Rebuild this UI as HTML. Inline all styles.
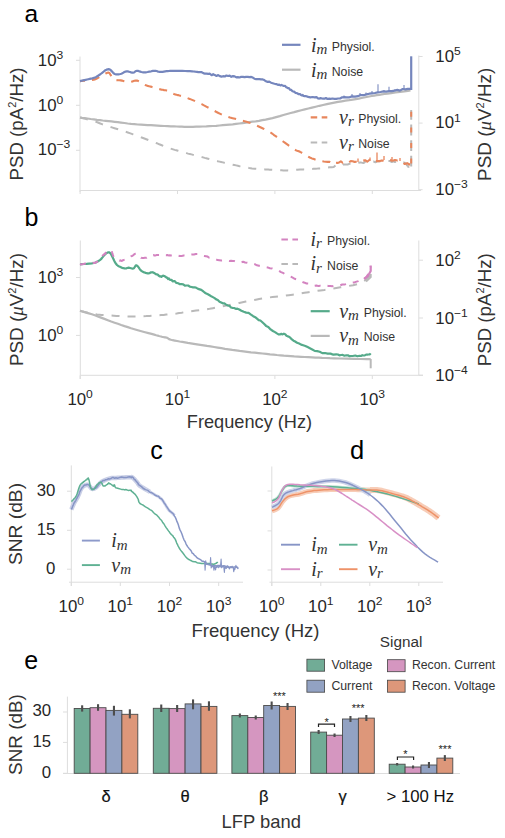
<!DOCTYPE html>
<html><head><meta charset="utf-8"><style>
html,body{margin:0;padding:0;background:#fff;}
svg{display:block;}
text{font-family:"Liberation Sans",sans-serif;}
</style></head><body>
<svg width="505" height="838" viewBox="0 0 505 838">
<rect width="505" height="838" fill="#fff"/>
<text x="24.5" y="22" font-size="24.5" text-anchor="start" fill="#000" >a</text>
<line x1="80" y1="56.5" x2="80" y2="192" stroke="#dddddd" stroke-width="1"/>
<line x1="80" y1="190.5" x2="421" y2="190.5" stroke="#dddddd" stroke-width="1"/>
<line x1="418.8" y1="55.5" x2="418.8" y2="190.5" stroke="#dddddd" stroke-width="1"/>
<line x1="76" y1="60.3" x2="80" y2="60.3" stroke="#dddddd" stroke-width="1"/>
<line x1="76" y1="105.3" x2="80" y2="105.3" stroke="#dddddd" stroke-width="1"/>
<line x1="76" y1="150.3" x2="80" y2="150.3" stroke="#dddddd" stroke-width="1"/>
<line x1="418.8" y1="56.5" x2="422.6" y2="56.5" stroke="#dddddd" stroke-width="1"/>
<line x1="418.8" y1="123.1" x2="422.6" y2="123.1" stroke="#dddddd" stroke-width="1"/>
<line x1="418.8" y1="189.7" x2="422.6" y2="189.7" stroke="#dddddd" stroke-width="1"/>
<line x1="80.1" y1="190.5" x2="80.1" y2="194" stroke="#dddddd" stroke-width="1"/>
<line x1="177.5" y1="190.5" x2="177.5" y2="194" stroke="#dddddd" stroke-width="1"/>
<line x1="274.9" y1="190.5" x2="274.9" y2="194" stroke="#dddddd" stroke-width="1"/>
<line x1="372.3" y1="190.5" x2="372.3" y2="194" stroke="#dddddd" stroke-width="1"/>
<text x="0" y="0" transform="translate(37.8 65.5) scale(1.05 1)" font-size="16" text-anchor="start" fill="#262626">10<tspan font-size="11.5" dy="-6.7">3</tspan></text>
<text x="0" y="0" transform="translate(37.8 110.8) scale(1.05 1)" font-size="16" text-anchor="start" fill="#262626">10<tspan font-size="11.5" dy="-6.7">0</tspan></text>
<text x="0" y="0" transform="translate(37.8 154.8) scale(1.05 1)" font-size="16" text-anchor="start" fill="#262626">10<tspan font-size="11.5" dy="-6.7">−3</tspan></text>
<text x="0" y="0" transform="translate(435.3 61.5) scale(1.05 1)" font-size="16" text-anchor="start" fill="#262626">10<tspan font-size="11.5" dy="-6.7">5</tspan></text>
<text x="0" y="0" transform="translate(435.3 128.3) scale(1.05 1)" font-size="16" text-anchor="start" fill="#262626">10<tspan font-size="11.5" dy="-6.7">1</tspan></text>
<text x="0" y="0" transform="translate(435.3 195) scale(1.05 1)" font-size="16" text-anchor="start" fill="#262626">10<tspan font-size="11.5" dy="-6.7">−3</tspan></text>
<text x="22.8" y="124" font-size="18.7" text-anchor="middle" fill="#333333" transform="rotate(-90 22.8 124)">PSD (pA<tspan font-size="11" dy="-7">2</tspan><tspan dy="7">/Hz)</tspan></text>
<text x="491" y="124.3" font-size="18.9" text-anchor="middle" fill="#333333" transform="rotate(-90 491 124.3)">PSD (<tspan style="font-family:Liberation Serif,serif;font-style:italic">μ</tspan>V<tspan font-size="11" dy="-7">2</tspan><tspan dy="7">/Hz)</tspan></text>
<path d="M80.0,117.5 L81.8,117.8 L84.4,118.1 L87.4,118.5 L90.7,119.0 L93.9,119.4 L97.0,119.8 L99.9,120.1 L102.7,120.5 L105.6,120.8 L108.5,121.1 L111.5,121.4 L114.6,121.8 L117.8,122.2 L121.0,122.6 L124.4,123.0 L127.7,123.5 L131.1,123.9 L134.4,124.2 L137.7,124.5 L141.0,124.7 L144.3,124.9 L147.6,125.1 L150.9,125.2 L154.2,125.4 L157.5,125.6 L160.9,125.8 L164.3,126.0 L167.7,126.1 L170.9,126.3 L174.0,126.4 L176.8,126.5 L179.4,126.6 L181.9,126.7 L184.4,126.8 L187.0,126.8 L189.8,126.8 L192.9,126.8 L196.1,126.7 L199.5,126.6 L202.9,126.5 L206.3,126.4 L209.6,126.2 L212.9,126.0 L216.2,125.8 L219.5,125.5 L222.8,125.2 L226.1,124.9 L229.4,124.6 L232.7,124.3 L236.0,123.9 L239.3,123.5 L242.6,123.1 L245.9,122.7 L249.2,122.2 L252.5,121.7 L255.7,121.3 L259.0,120.8 L262.3,120.2 L265.6,119.6 L269.0,118.9 L272.5,118.1 L276.1,117.1 L279.8,116.1 L283.4,115.0 L287.1,114.0 L290.7,113.0 L294.3,112.1 L297.8,111.1 L301.3,110.2 L304.8,109.4 L308.4,108.5 L312.0,107.6 L315.7,106.7 L319.4,105.8 L323.1,105.0 L326.9,104.1 L330.6,103.3 L334.3,102.6 L338.0,101.9 L341.7,101.3 L345.4,100.7 L349.1,100.2 L352.6,99.6 L355.8,99.1 L358.8,98.6 L361.5,98.0 L364.1,97.5 L366.6,97.0 L369.1,96.5 L371.7,96.0 L374.3,95.6 L376.7,95.2 L379.2,94.8 L381.7,94.4 L384.5,94.0 L387.5,93.6 L391.2,93.1 L395.5,92.5 L400.0,91.8 L404.3,91.3 L407.9,90.8 L410.5,90.4" fill="none" stroke="#b9b9b9" stroke-width="2.2" stroke-linejoin="round" opacity="1"/>
<path d="M80.0,117.5 L81.4,117.8 L83.3,118.3 L85.5,118.8 L88.0,119.5 L90.5,120.1 L92.8,120.8 L95.0,121.5 L97.3,122.3 L99.6,123.2 L101.9,124.1 L104.3,125.0 L106.7,125.8 L109.2,126.6 L111.8,127.4 L114.5,128.2 L117.2,129.0 L119.8,129.8 L122.5,130.7 L125.1,131.6 L127.8,132.5 L130.4,133.4 L133.1,134.4 L135.8,135.3 L138.4,136.3 L141.0,137.3 L143.7,138.2 L146.3,139.2 L148.9,140.2 L151.6,141.2 L154.2,142.2 L156.8,143.2 L159.3,144.3 L161.8,145.3 L164.4,146.4 L167.1,147.4 L170.0,148.4 L171.5,148.9 L173.1,149.4 L174.7,149.9 L176.3,150.3 L178.0,150.8 L179.7,151.3 L181.4,151.7 L183.1,152.2 L184.8,152.6 L186.5,153.1 L188.1,153.6 L189.8,154.0 L191.5,154.4 L193.1,154.9 L194.8,155.3 L196.4,155.7 L198.1,156.2 L199.7,156.6 L201.4,157.0 L203.0,157.4 L204.7,157.9 L206.3,158.3 L208.0,158.7 L209.6,159.1 L211.2,159.5 L212.9,159.9 L214.6,160.3 L216.2,160.7 L217.8,161.2 L219.5,161.6 L221.1,162.0 L222.8,162.4 L224.4,162.8 L226.1,163.1 L227.8,163.5 L229.4,163.9 L231.1,164.3 L232.7,164.7 L234.4,165.0 L236.1,165.4 L237.8,165.8 L239.6,166.2 L241.2,166.5 L242.9,166.9 L244.5,167.2 L246.1,167.5 L247.7,167.7 L249.2,168.0 L252.0,168.4 L254.6,168.7 L257.1,168.9 L259.6,169.1 L262.2,169.2 L265.0,169.4 L266.6,169.5 L268.1,169.6 L269.8,169.7 L271.5,169.8 L273.2,169.9 L274.9,170.0 L276.7,170.1 L278.4,170.2 L280.1,170.3 L281.7,170.3 L283.3,170.4 L284.8,170.4 L287.5,170.4 L289.9,170.3 L292.1,170.2 L294.5,170.0 L297.0,169.8 L300.0,169.6 L301.7,169.5 L303.5,169.4 L305.4,169.3 L307.3,169.2 L309.3,169.1 L311.4,169.0 L313.5,168.8 L315.6,168.7 L317.6,168.6 L319.7,168.4 L321.8,168.2 L323.8,168.0 L325.8,167.8 L327.8,167.5 L329.7,167.2 L331.7,167.3 L333.7,167.0 L335.6,165.4 L337.6,165.1 L339.6,165.9 L341.6,166.1 L343.5,164.5 L345.5,164.6 L347.5,164.6 L349.5,163.8 L351.5,163.7 L353.4,163.3 L355.4,163.2 L357.4,163.4 L359.4,162.6 L361.4,162.6 L363.4,163.1 L365.4,161.6 L367.3,162.4 L369.3,162.6 L371.3,161.7 L373.4,161.4 L375.4,162.3 L377.6,161.2 L379.7,161.0 L381.9,161.4 L384.0,161.9 L386.1,160.7 L388.1,161.1 L390.0,161.1 L391.9,162.0 L393.4,161.4 L395.0,162.1 L397.5,161.0 L399.4,161.4 L400.9,162.1 L402.2,162.8 L403.4,162.5 L404.6,162.7 L405.9,163.5 L407.1,165.5 L408.2,166.3 L409.1,168.8 L409.9,170.1 L410.5,170.3" fill="none" stroke="#b9b9b9" stroke-width="2.0" stroke-linejoin="round" stroke-dasharray="8,8" stroke-dashoffset="0" opacity="1"/>
<path d="M80.0,81.1 L81.6,81.0 L83.8,80.8 L86.4,80.6 L89.2,80.4 L91.7,80.1 L93.8,79.7 L95.4,79.2 L96.8,78.6 L98.0,77.9 L99.1,77.1 L100.2,76.4 L101.3,75.8 L102.5,75.2 L103.8,74.5 L105.1,73.8 L106.3,73.2 L107.4,72.8 L108.3,72.6 L109.0,72.7 L109.5,73.1 L109.9,73.6 L110.2,74.2 L110.6,74.9 L111.0,75.5 L111.4,76.1 L111.8,76.9 L112.2,77.7 L112.6,78.4 L113.2,79.1 L114.0,79.6 L115.1,79.9 L116.3,80.1 L117.8,80.3 L119.2,80.3 L120.7,80.4 L122.0,80.6 L123.2,80.9 L124.4,81.2 L125.5,81.6 L126.6,81.9 L127.8,82.1 L129.0,82.2 L130.3,82.1 L131.6,81.7 L133.0,81.2 L134.4,80.8 L135.7,80.6 L137.0,80.6 L138.2,81.0 L139.4,81.6 L140.5,82.3 L141.6,83.2 L142.8,84.0 L144.0,84.6 L145.3,85.1 L146.6,85.5 L147.9,85.9 L149.3,86.3 L150.7,86.6 L152.0,87.0 L153.3,87.4 L154.7,87.8 L156.0,88.2 L157.3,88.6 L158.7,89.0 L160.0,89.3 L161.4,89.6 L162.7,89.8 L164.1,90.1 L165.5,90.3 L166.8,90.6 L168.0,90.9 L169.1,91.3 L170.0,91.8 L170.9,92.4 L171.9,93.0 L172.8,93.5 L174.0,94.0 L175.3,94.4 L176.6,94.8 L178.0,95.1 L179.5,95.5 L181.2,95.9 L183.0,96.5 L185.0,97.2 L187.3,98.0 L189.7,98.9 L192.1,99.9 L194.6,100.9 L197.0,101.9 L199.3,103.0 L201.7,104.1 L204.0,105.4 L206.3,106.6 L208.7,107.8 L211.0,109.0 L213.3,110.2 L215.6,111.5 L217.9,112.7 L220.3,113.9 L222.6,115.0 L225.0,116.0 L227.5,116.8 L230.0,117.6 L232.6,118.2 L235.1,118.8 L237.6,119.4 L240.0,120.0 L242.3,120.6 L244.4,121.2 L246.5,121.8 L248.6,122.4 L250.7,123.2 L253.0,124.0 L255.5,125.0 L258.2,126.2 L260.9,127.5 L263.5,128.7 L265.9,129.9 L268.0,131.0 L269.6,131.9 L270.8,132.7 L271.8,133.3 L272.7,134.0 L273.7,134.8 L274.9,135.7 L276.4,136.7 L278.0,137.9 L279.7,139.1 L281.4,140.3 L283.1,141.5 L284.8,142.7 L286.5,143.9 L288.3,145.2 L290.0,146.4 L291.7,147.7 L293.3,148.7 L294.7,149.6 L295.8,150.2 L296.6,150.5 L297.2,150.7 L297.9,150.9 L298.8,151.2 L300.0,151.8 L301.6,152.7 L303.5,153.8 L305.5,155.0 L307.7,156.3 L309.8,157.5 L311.9,158.4 L313.9,159.1 L315.9,159.8 L317.9,160.3 L319.8,160.8 L321.8,161.2 L323.8,161.5 L325.8,161.7 L327.7,161.9 L329.7,161.9 L331.7,162.8 L333.6,161.2 L335.6,162.8 L337.4,162.9 L339.1,162.4 L340.8,161.3 L342.6,162.8 L344.8,161.4 L347.5,162.8 L349.1,162.2 L350.8,161.1 L352.7,161.2 L354.6,161.9 L356.6,161.7 L358.7,161.9 L360.8,162.1 L362.9,160.7 L365.1,160.2 L367.2,161.7 L369.3,160.0 L371.3,161.5 L373.4,160.0 L375.4,161.2 L377.6,161.0 L379.7,161.1 L381.9,160.4 L384.0,160.9 L386.1,159.6 L388.1,160.3 L390.0,159.7 L391.9,160.7 L393.4,160.5 L395.0,160.0 L397.5,160.5 L399.4,160.1 L400.9,160.7 L402.2,162.3 L403.4,162.7 L404.6,163.9 L405.9,163.7 L407.1,163.1 L408.2,163.7 L409.1,164.6 L409.9,164.3 L410.5,164.4" fill="none" stroke="#e8865c" stroke-width="2.1" stroke-linejoin="round" stroke-dasharray="8,7" stroke-dashoffset="3" opacity="1"/>
<line x1="411.2" y1="166.6" x2="411.2" y2="110" stroke="#b9b9b9" stroke-width="2" stroke-dasharray="10.8,4.8"/>
<line x1="411.2" y1="166.6" x2="411.2" y2="110" stroke="#e8865c" stroke-width="2" stroke-dasharray="5,10.6" stroke-dashoffset="-3"/>
<path d="M80.0,81.1 L80.8,80.9 L81.8,80.7 L83.0,80.4 L84.3,80.1 L85.7,79.8 L87.0,79.5 L88.3,79.2 L89.7,78.9 L91.0,78.6 L92.4,78.3 L93.8,77.9 L95.0,77.4 L96.2,76.9 L97.3,76.2 L98.4,75.5 L99.4,74.8 L100.4,74.2 L101.3,73.5 L102.2,72.8 L103.0,72.2 L103.8,71.5 L104.6,70.8 L105.4,70.3 L106.1,69.9 L106.8,69.6 L107.4,69.4 L108.0,69.3 L108.7,69.2 L109.3,69.3 L110.0,69.6 L110.7,70.1 L111.5,70.9 L112.3,71.8 L113.1,72.7 L113.9,73.5 L114.8,74.0 L115.7,74.3 L116.5,74.4 L117.5,74.4 L118.4,74.4 L119.3,74.2 L120.3,74.0 L121.3,73.7 L122.4,73.2 L123.5,72.6 L124.5,72.1 L125.6,71.6 L126.7,71.4 L127.8,71.4 L128.9,71.7 L130.0,72.0 L131.1,72.4 L132.1,72.6 L133.0,72.7 L133.8,72.5 L134.4,72.2 L134.9,71.7 L135.5,71.3 L136.2,71.0 L137.0,70.8 L138.0,70.9 L139.0,71.2 L140.2,71.6 L141.4,72.0 L142.7,72.3 L144.1,72.4 L145.7,72.3 L147.5,72.0 L149.3,71.6 L151.2,71.3 L152.9,70.9 L154.4,70.8 L155.6,70.8 L156.5,71.0 L157.3,71.3 L158.1,71.6 L159.0,71.8 L160.0,71.9 L161.2,71.9 L162.5,71.8 L163.9,71.6 L165.2,71.4 L166.6,71.2 L167.9,71.1 L169.0,71.0 L170.0,70.9 L171.0,70.9 L172.1,70.8 L173.4,70.8 L175.0,70.8 L177.1,70.8 L179.6,70.9 L182.3,70.9 L185.1,71.0 L187.7,71.1 L190.0,71.2 L192.0,71.3 L193.7,71.5 L195.3,71.7 L196.9,71.8 L198.4,72.1 L200.0,72.2 L201.7,72.2 L203.3,73.1 L205.0,73.7 L206.6,73.6 L208.3,73.9 L209.9,73.7 L211.6,75.2 L213.2,74.2 L214.9,75.1 L216.5,75.9 L218.2,75.1 L219.8,76.1 L221.5,76.6 L223.1,76.2 L224.8,76.5 L226.4,75.5 L228.1,76.0 L229.7,75.7 L231.3,76.8 L233.0,76.1 L234.6,76.4 L236.3,77.3 L237.9,77.2 L239.6,77.5 L241.2,76.8 L242.9,76.9 L244.6,77.2 L246.2,76.9 L247.8,76.8 L249.5,77.1 L251.2,76.9 L252.8,77.6 L254.4,78.7 L256.1,79.1 L257.8,79.0 L259.4,79.2 L261.0,79.4 L262.7,79.4 L264.3,80.1 L266.0,81.3 L267.6,81.9 L269.3,81.6 L271.0,82.7 L272.7,83.2 L274.5,83.7 L276.2,84.1 L277.8,84.8 L279.2,84.6 L280.4,85.4 L281.5,84.9 L282.4,85.4 L283.3,85.9 L284.2,86.0 L285.1,85.8 L286.1,87.2 L287.0,87.5 L287.9,88.1 L288.9,88.0 L289.9,89.6 L291.1,89.9 L292.5,91.2 L294.0,91.6 L295.6,92.9 L297.2,93.3 L298.7,94.2 L300.0,94.1 L300.9,94.9 L301.6,95.2 L302.1,95.5 L302.7,95.0 L303.5,95.9 L304.6,96.1 L306.2,96.2 L308.2,96.9 L310.3,97.3 L312.6,97.0 L314.7,97.4 L316.5,97.1 L318.0,98.3 L319.4,98.6 L320.6,98.1 L321.8,98.5 L323.0,98.6 L324.4,98.7 L325.9,98.0 L327.5,99.0 L329.1,98.7 L330.7,98.9 L332.5,98.5 L334.3,98.8 L336.2,98.9 L338.1,98.5 L340.1,98.5 L342.2,97.3 L344.4,97.2 L346.8,97.3 L349.4,97.3 L352.1,96.4 L355.0,96.7 L357.9,96.2 L360.8,95.0 L363.7,95.2 L366.5,94.4 L369.3,93.7 L372.1,93.3 L374.9,93.0 L377.7,92.4 L380.5,92.0 L383.3,91.4 L386.2,91.6 L389.1,91.1 L391.9,91.1 L394.7,90.7 L397.3,89.9 L399.9,90.6 L402.7,89.0 L405.3,89.3 L407.7,88.9 L409.7,88.8 L411.2,88.8" fill="none" stroke="#7586bd" stroke-width="2.2" stroke-linejoin="round" opacity="1"/>
<line x1="411.2" y1="90" x2="411.2" y2="56.3" stroke="#7586bd" stroke-width="2.2"/>
<line x1="352" y1="96.5" x2="352" y2="94" stroke="#7586bd" stroke-width="1.3" opacity="0.8"/>
<line x1="360" y1="95.5" x2="360" y2="93" stroke="#7586bd" stroke-width="1.3" opacity="0.8"/>
<line x1="366" y1="94.5" x2="366" y2="92.5" stroke="#7586bd" stroke-width="1.3" opacity="0.8"/>
<line x1="372" y1="94" x2="372" y2="91" stroke="#7586bd" stroke-width="1.3" opacity="0.8"/>
<line x1="378" y1="93" x2="378" y2="84.3" stroke="#7586bd" stroke-width="1.3" opacity="0.8"/>
<line x1="384" y1="92" x2="384" y2="90" stroke="#7586bd" stroke-width="1.3" opacity="0.8"/>
<line x1="389" y1="91.5" x2="389" y2="86.8" stroke="#7586bd" stroke-width="1.3" opacity="0.8"/>
<line x1="395" y1="90.5" x2="395" y2="89" stroke="#7586bd" stroke-width="1.3" opacity="0.8"/>
<line x1="404" y1="89.5" x2="404" y2="85" stroke="#7586bd" stroke-width="1.3" opacity="0.8"/>
<line x1="344" y1="97.5" x2="344" y2="95.5" stroke="#7586bd" stroke-width="1.3" opacity="0.8"/>
<line x1="377" y1="160" x2="377" y2="152.6" stroke="#e8865c" stroke-width="1.3"/>
<line x1="384" y1="160" x2="384" y2="156" stroke="#e8865c" stroke-width="1.3"/>
<line x1="370" y1="161" x2="370" y2="157.5" stroke="#e8865c" stroke-width="1.3"/>
<line x1="392" y1="160" x2="392" y2="157" stroke="#e8865c" stroke-width="1.3"/>
<line x1="358" y1="162" x2="358" y2="158.5" stroke="#e8865c" stroke-width="1.3"/>
<line x1="400" y1="161" x2="400" y2="158" stroke="#e8865c" stroke-width="1.3"/>
<line x1="282" y1="44.8" x2="300.5" y2="44.8" stroke="#7586bd" stroke-width="2.2"/>
<text x="311" y="51.5" font-size="20" fill="#333" style="font-family:Liberation Serif,serif;font-style:italic">i<tspan font-size="15" dy="2.6">m</tspan></text>
<text x="331.7" y="50.5" font-size="12.3" text-anchor="start" fill="#333333" >Physiol.</text>
<line x1="282" y1="69.7" x2="300.5" y2="69.7" stroke="#b9b9b9" stroke-width="2.2"/>
<text x="311" y="76.5" font-size="20" fill="#333" style="font-family:Liberation Serif,serif;font-style:italic">i<tspan font-size="15" dy="2.6">m</tspan></text>
<text x="331.7" y="75.5" font-size="12.3" text-anchor="start" fill="#333333" >Noise</text>
<line x1="310.7" y1="117.4" x2="327.3" y2="117.4" stroke="#e8865c" stroke-width="2.2" stroke-dasharray="6.5,4.5"/>
<text x="339" y="123.5" font-size="20" fill="#333" style="font-family:Liberation Serif,serif;font-style:italic">v<tspan font-size="15" dy="2.6">r</tspan></text>
<text x="358.2" y="122.5" font-size="12.3" text-anchor="start" fill="#333333" >Physiol.</text>
<line x1="310.7" y1="142.5" x2="327.3" y2="142.5" stroke="#b9b9b9" stroke-width="2.2" stroke-dasharray="6.5,4.5"/>
<text x="339" y="148.5" font-size="20" fill="#333" style="font-family:Liberation Serif,serif;font-style:italic">v<tspan font-size="15" dy="2.6">r</tspan></text>
<text x="358.2" y="147.5" font-size="12.3" text-anchor="start" fill="#333333" >Noise</text>
<text x="24.5" y="225.5" font-size="25" text-anchor="start" fill="#000" >b</text>
<line x1="80.3" y1="240.5" x2="80.3" y2="379" stroke="#dddddd" stroke-width="1"/>
<line x1="80.3" y1="375.3" x2="423" y2="375.3" stroke="#dddddd" stroke-width="1"/>
<line x1="418.8" y1="240.5" x2="418.8" y2="375.3" stroke="#dddddd" stroke-width="1"/>
<line x1="76" y1="277.5" x2="80.3" y2="277.5" stroke="#dddddd" stroke-width="1"/>
<line x1="76" y1="335.4" x2="80.3" y2="335.4" stroke="#dddddd" stroke-width="1"/>
<line x1="418.8" y1="260.2" x2="423" y2="260.2" stroke="#dddddd" stroke-width="1"/>
<line x1="418.8" y1="318" x2="423" y2="318" stroke="#dddddd" stroke-width="1"/>
<line x1="418.8" y1="375.2" x2="423" y2="375.2" stroke="#dddddd" stroke-width="1"/>
<line x1="80.1" y1="375.3" x2="80.1" y2="379" stroke="#dddddd" stroke-width="1"/>
<line x1="177.5" y1="375.3" x2="177.5" y2="379" stroke="#dddddd" stroke-width="1"/>
<line x1="274.9" y1="375.3" x2="274.9" y2="379" stroke="#dddddd" stroke-width="1"/>
<line x1="372.3" y1="375.3" x2="372.3" y2="379" stroke="#dddddd" stroke-width="1"/>
<text x="0" y="0" transform="translate(37.8 283) scale(1.05 1)" font-size="16" text-anchor="start" fill="#262626">10<tspan font-size="11.5" dy="-6.7">3</tspan></text>
<text x="0" y="0" transform="translate(37.8 341) scale(1.05 1)" font-size="16" text-anchor="start" fill="#262626">10<tspan font-size="11.5" dy="-6.7">0</tspan></text>
<text x="0" y="0" transform="translate(435.3 265.5) scale(1.05 1)" font-size="16" text-anchor="start" fill="#262626">10<tspan font-size="11.5" dy="-6.7">2</tspan></text>
<text x="0" y="0" transform="translate(435.3 323.5) scale(1.05 1)" font-size="16" text-anchor="start" fill="#262626">10<tspan font-size="11.5" dy="-6.7">−1</tspan></text>
<text x="0" y="0" transform="translate(435.3 381) scale(1.05 1)" font-size="16" text-anchor="start" fill="#262626">10<tspan font-size="11.5" dy="-6.7">−4</tspan></text>
<text x="22.8" y="309.5" font-size="18.9" text-anchor="middle" fill="#333333" transform="rotate(-90 22.8 309.5)">PSD (<tspan style="font-family:Liberation Serif,serif;font-style:italic">μ</tspan>V<tspan font-size="11" dy="-7">2</tspan><tspan dy="7">/Hz)</tspan></text>
<text x="491" y="309.7" font-size="18.7" text-anchor="middle" fill="#333333" transform="rotate(-90 491 309.7)">PSD (pA<tspan font-size="11" dy="-7">2</tspan><tspan dy="7">/Hz)</tspan></text>
<path d="M80.0,310.8 L81.6,311.3 L83.7,311.9 L86.2,312.6 L88.9,313.4 L91.9,314.3 L94.8,315.3 L97.8,316.4 L101.0,317.6 L104.4,318.9 L107.8,320.2 L111.2,321.5 L114.6,322.7 L117.9,323.8 L121.2,325.0 L124.5,326.1 L127.8,327.1 L131.1,328.2 L134.4,329.2 L137.8,330.2 L141.4,331.2 L145.1,332.2 L148.5,333.1 L151.6,333.9 L154.2,334.6 L156.2,335.2 L157.8,335.6 L159.0,336.0 L160.1,336.3 L161.0,336.5 L162.0,336.8 L163.0,337.0 L163.9,337.2 L164.7,337.3 L165.5,337.4 L166.3,337.6 L167.0,337.8 L167.6,338.1 L168.0,338.4 L168.4,338.7 L169.0,339.1 L169.8,339.4 L171.0,339.8 L172.7,340.2 L174.8,340.6 L177.1,341.0 L179.6,341.5 L182.3,341.9 L185.0,342.4 L187.8,342.9 L190.8,343.3 L193.8,343.8 L197.0,344.3 L200.3,344.8 L203.6,345.3 L207.0,345.9 L210.5,346.4 L214.1,347.0 L217.7,347.6 L221.4,348.2 L225.0,348.8 L228.6,349.3 L232.3,349.9 L236.0,350.4 L239.6,350.9 L243.4,351.3 L247.1,351.8 L250.9,352.3 L254.8,352.7 L258.6,353.1 L262.5,353.5 L266.3,353.9 L270.0,354.3 L273.6,354.6 L277.0,355.0 L280.4,355.3 L283.8,355.6 L287.2,355.8 L290.7,356.1 L294.2,356.4 L297.7,356.6 L301.2,356.8 L304.8,357.0 L308.4,357.2 L312.0,357.4 L315.5,357.6 L318.8,357.7 L322.2,357.9 L325.8,358.0 L329.8,358.2 L334.3,358.3 L340.0,358.5 L346.7,358.6 L353.9,358.8 L360.7,359.0 L366.6,359.1 L370.7,359.2" fill="none" stroke="#b9b9b9" stroke-width="2.2" stroke-linejoin="round" opacity="1"/>
<line x1="370.7" y1="359" x2="370.7" y2="368.3" stroke="#b9b9b9" stroke-width="2"/>
<path d="M80.0,310.8 L81.6,311.2 L83.9,311.8 L86.5,312.4 L89.4,313.1 L92.2,313.7 L94.8,314.2 L97.1,314.5 L99.4,314.7 L101.7,314.9 L104.0,315.0 L106.3,315.1 L108.7,315.3 L111.2,315.5 L113.8,315.7 L116.5,315.9 L119.2,316.0 L121.8,316.2 L124.5,316.3 L127.1,316.4 L129.7,316.4 L132.3,316.4 L134.9,316.4 L137.5,316.4 L140.3,316.3 L143.2,316.2 L146.2,316.1 L149.3,315.9 L152.3,315.7 L155.3,315.5 L158.2,315.3 L161.0,315.1 L163.6,314.9 L166.2,314.6 L168.8,314.4 L171.4,314.1 L174.0,313.8 L176.6,313.5 L179.1,313.1 L181.7,312.7 L184.2,312.2 L186.9,311.8 L189.8,311.4 L192.9,311.0 L196.1,310.6 L199.5,310.2 L202.9,309.8 L206.3,309.3 L209.6,308.8 L212.9,308.2 L216.2,307.6 L219.5,306.9 L222.8,306.3 L226.1,305.6 L229.4,304.9 L232.7,304.2 L236.0,303.6 L239.3,302.9 L242.6,302.2 L245.9,301.5 L249.2,300.9 L252.5,300.3 L255.8,299.7 L259.1,299.1 L262.4,298.5 L265.7,298.0 L269.0,297.5 L272.3,297.1 L275.5,296.7 L278.7,296.4 L281.9,296.0 L285.3,295.6 L288.8,295.2 L292.5,294.7 L296.4,294.1 L300.4,293.5 L304.4,292.8 L308.5,292.2 L312.5,291.6 L316.5,291.0 L320.4,290.4 L324.4,289.9 L328.4,289.3 L332.3,288.7 L336.3,288.0 L340.4,287.3 L344.7,286.6 L349.0,285.9 L353.1,285.2 L356.9,284.3 L360.1,283.3 L362.8,282.0 L365.0,280.5 L366.9,278.9 L368.4,277.3 L369.7,275.9 L370.7,275.0" fill="none" stroke="#b9b9b9" stroke-width="2.0" stroke-linejoin="round" stroke-dasharray="8,8" stroke-dashoffset="0" opacity="1"/>
<path d="M80.0,264.3 L81.6,264.2 L83.9,264.0 L86.5,263.9 L89.2,263.6 L91.8,263.3 L93.8,263.0 L95.3,262.6 L96.6,262.1 L97.6,261.6 L98.5,261.0 L99.4,260.4 L100.2,259.8 L101.0,259.1 L101.7,258.4 L102.3,257.6 L102.9,256.9 L103.4,256.1 L104.0,255.5 L104.6,254.9 L105.1,254.3 L105.7,253.8 L106.2,253.3 L106.8,252.9 L107.3,252.7 L107.8,252.5 L108.3,252.3 L108.8,252.3 L109.3,252.4 L109.8,252.8 L110.5,253.5 L111.3,254.7 L112.2,256.5 L113.2,258.5 L114.1,260.5 L115.1,262.4 L116.0,263.8 L116.8,264.8 L117.7,265.5 L118.4,266.1 L119.2,266.5 L120.0,266.8 L120.8,267.2 L121.6,267.6 L122.4,267.9 L123.2,268.1 L124.0,268.3 L124.8,268.4 L125.5,268.5 L126.1,268.5 L126.6,268.3 L127.1,268.1 L127.6,267.9 L128.1,267.8 L128.7,267.7 L129.4,267.8 L130.2,268.0 L131.0,268.2 L131.9,268.5 L132.7,268.6 L133.4,268.5 L134.0,268.1 L134.5,267.4 L135.0,266.6 L135.5,265.9 L136.0,265.4 L136.6,265.3 L137.3,265.8 L138.0,266.6 L138.8,267.7 L139.6,268.9 L140.5,270.1 L141.4,270.9 L142.4,271.5 L143.4,272.1 L144.6,272.5 L145.7,272.9 L146.7,273.1 L147.7,273.3 L148.6,273.3 L149.4,273.2 L150.2,272.7 L151.0,272.3 L151.7,272.4 L152.5,272.2 L153.3,272.6 L154.1,273.0 L155.0,273.5 L155.8,274.2 L156.5,274.3 L157.2,274.4 L157.8,274.7 L158.2,275.0 L158.6,275.7 L159.0,275.7 L159.5,276.4 L160.1,276.2 L160.8,276.5 L161.6,276.9 L162.5,275.8 L163.4,275.7 L164.2,276.0 L165.1,276.5 L165.9,277.0 L166.6,277.7 L167.2,277.7 L168.0,279.0 L168.9,278.4 L170.0,280.0 L171.4,279.9 L172.9,281.4 L174.6,281.0 L176.4,282.9 L178.2,283.3 L179.9,284.2 L181.6,284.2 L183.2,284.3 L184.9,285.7 L186.5,285.5 L188.2,285.5 L189.8,286.6 L191.5,287.0 L193.1,287.4 L194.8,287.4 L196.4,287.8 L198.1,288.9 L199.7,289.4 L201.3,289.9 L203.0,291.2 L204.6,292.5 L206.3,293.6 L207.9,294.3 L209.6,295.3 L211.2,296.2 L212.9,297.1 L214.6,298.1 L216.2,299.4 L217.8,300.0 L219.5,301.7 L221.2,302.5 L222.8,303.3 L224.4,303.4 L226.1,304.6 L227.8,305.5 L229.4,305.8 L231.0,307.5 L232.6,307.8 L234.1,308.0 L235.7,308.8 L237.4,308.7 L239.3,309.5 L241.4,310.7 L243.8,311.8 L246.2,312.6 L248.6,312.9 L251.0,314.7 L253.2,316.2 L255.2,317.2 L257.0,318.7 L258.7,320.1 L260.4,320.5 L262.1,322.0 L264.0,323.8 L266.1,325.9 L268.3,326.9 L270.6,329.4 L272.9,331.0 L275.0,332.1 L276.9,333.4 L278.5,334.4 L280.0,334.4 L281.3,333.8 L282.6,334.4 L283.9,333.7 L285.2,334.2 L286.5,335.7 L287.8,336.4 L289.1,336.8 L290.5,337.9 L291.9,339.4 L293.5,340.7 L295.2,341.5 L297.1,342.8 L299.1,343.5 L301.1,344.6 L303.2,345.3 L305.4,346.0 L307.6,347.1 L309.9,348.3 L312.3,349.5 L314.7,350.9 L317.2,351.1 L319.7,351.7 L322.3,353.1 L325.0,353.0 L327.7,353.6 L330.5,353.6 L333.4,354.7 L336.3,354.3 L337.9,354.5 L339.4,355.3 L341.1,355.0 L342.8,354.9 L344.5,355.7 L346.2,355.3 L347.9,355.3 L349.6,356.2 L351.1,356.0 L352.7,356.0 L355.3,355.5 L357.5,356.2 L359.3,355.8 L360.9,356.0 L362.3,355.2 L363.5,355.5 L364.8,355.4 L366.1,354.6 L367.3,354.7 L368.3,354.5 L369.3,354.4 L370.1,354.1 L370.7,353.4" fill="none" stroke="#55aa8a" stroke-width="2.2" stroke-linejoin="round" opacity="1"/>
<path d="M80.0,264.0 L80.9,264.4 L82.1,264.2 L83.6,263.9 L85.1,263.6 L86.6,263.9 L88.0,263.7 L89.2,263.4 L90.5,263.4 L91.7,263.1 L92.9,262.8 L94.0,263.0 L95.0,262.9 L96.0,262.0 L96.9,262.1 L97.7,261.0 L98.5,260.4 L99.2,259.5 L100.0,259.6 L100.7,258.7 L101.4,258.0 L102.1,256.9 L102.7,255.6 L103.3,255.1 L104.0,254.5 L104.7,253.6 L105.4,253.7 L106.0,252.6 L106.7,252.0 L107.4,252.1 L108.0,251.2 L108.6,251.5 L109.2,250.8 L109.8,250.6 L110.3,250.3 L110.8,250.5 L111.3,250.5 L111.7,251.0 L112.1,252.6 L112.4,253.2 L112.7,254.8 L113.1,255.5 L113.6,257.0 L114.2,257.7 L114.9,258.2 L115.6,258.9 L116.4,259.2 L117.2,259.8 L118.0,259.7 L118.8,260.2 L119.6,260.7 L120.4,260.3 L121.2,260.9 L122.1,260.8 L123.0,260.2 L124.0,259.9 L125.0,259.6 L126.1,259.0 L127.2,259.0 L128.4,257.9 L129.5,257.0 L130.7,256.4 L131.9,256.0 L133.1,255.4 L134.3,254.2 L135.5,253.7 L136.6,253.5 L137.6,254.1 L138.5,254.5 L139.3,255.8 L140.2,256.9 L141.1,257.8 L142.2,257.9 L143.5,257.9 L144.9,257.7 L146.5,257.7 L148.0,256.6 L149.5,256.3 L150.9,255.6 L152.2,255.2 L153.4,255.0 L154.5,255.5 L155.6,255.4 L156.8,255.0 L158.0,255.1 L159.3,255.1 L160.6,255.2 L161.9,255.2 L163.3,254.7 L164.7,255.1 L166.0,255.2 L167.3,255.0 L168.5,255.4 L169.8,255.3 L171.1,255.4 L172.4,255.5 L174.0,256.1 L175.7,255.6 L177.6,255.5 L179.7,256.0 L181.7,255.9 L183.8,255.5 L185.8,255.7 L187.8,254.9 L189.8,254.8 L191.9,254.5 L193.9,254.4 L195.8,254.0 L197.7,254.0 L199.5,254.4 L201.1,255.2 L202.8,255.7 L204.4,256.0 L206.0,256.3 L207.6,256.6 L209.2,257.7 L210.8,257.9 L212.4,258.6 L214.1,258.6 L215.7,259.2 L217.5,260.1 L219.4,260.3 L221.4,260.6 L223.4,260.5 L225.5,260.5 L227.5,260.7 L229.4,261.1 L231.1,260.8 L232.8,261.1 L234.4,261.1 L235.9,261.6 L237.6,261.2 L239.3,261.9 L241.2,262.4 L243.1,261.8 L245.1,262.5 L247.2,262.8 L249.2,263.3 L251.2,263.5 L253.1,263.7 L255.1,264.3 L257.0,265.3 L258.9,265.8 L260.9,265.8 L263.0,266.4 L265.2,266.9 L267.6,267.4 L269.9,268.2 L272.3,268.6 L274.7,269.8 L276.9,270.3 L279.0,270.8 L281.0,272.1 L283.0,272.9 L284.9,274.1 L286.8,274.9 L288.8,275.8 L290.8,276.7 L292.7,277.7 L294.7,278.8 L296.7,279.4 L298.6,279.8 L300.6,281.1 L302.6,282.0 L304.6,282.7 L306.5,283.5 L308.5,283.6 L310.5,284.7 L312.5,284.9 L314.5,285.8 L316.5,285.5 L318.4,286.1 L320.4,285.8 L322.4,286.2 L324.4,286.0 L326.4,285.7 L328.4,286.0 L330.3,285.9 L332.3,286.2 L334.3,285.6 L336.3,285.6 L338.3,285.4 L340.3,285.5 L342.2,284.5 L344.2,284.6 L346.2,284.1 L348.2,283.9 L350.2,283.6 L352.3,282.6 L354.4,282.4 L356.5,281.6 L358.4,281.1 L360.1,280.1 L361.6,280.1 L363.0,279.6 L364.2,278.5 L365.3,277.8 L366.3,277.5 L367.2,275.8 L368.0,274.4 L368.8,272.6 L369.4,271.3 L369.9,269.5 L370.4,267.7 L370.7,266.6" fill="none" stroke="#d383c0" stroke-width="2.0" stroke-linejoin="round" stroke-dasharray="6,7" stroke-dashoffset="0" opacity="1"/>
<path d="M364,279 L368,276 L370.7,271 L370.7,265.5" fill="none" stroke="#d383c0" stroke-width="2.2"/>
<path d="M366,281.5 L370.7,277 L370.7,274" fill="none" stroke="#b9b9b9" stroke-width="2"/>
<line x1="281.4" y1="239.5" x2="298" y2="239.5" stroke="#d383c0" stroke-width="2.2" stroke-dasharray="6.5,4.5"/>
<text x="310.4" y="245.5" font-size="20" fill="#333" style="font-family:Liberation Serif,serif;font-style:italic">i<tspan font-size="15" dy="2.6">r</tspan></text>
<text x="327" y="245" font-size="12.3" text-anchor="start" fill="#333333" >Physiol.</text>
<line x1="281.4" y1="264" x2="298" y2="264" stroke="#b9b9b9" stroke-width="2.2" stroke-dasharray="6.5,4.5"/>
<text x="310.4" y="270" font-size="20" fill="#333" style="font-family:Liberation Serif,serif;font-style:italic">i<tspan font-size="15" dy="2.6">r</tspan></text>
<text x="327" y="269.5" font-size="12.3" text-anchor="start" fill="#333333" >Noise</text>
<line x1="310.7" y1="311.2" x2="329.7" y2="311.2" stroke="#55aa8a" stroke-width="2.2"/>
<text x="339.2" y="317.5" font-size="20" fill="#333" style="font-family:Liberation Serif,serif;font-style:italic">v<tspan font-size="15" dy="2.6">m</tspan></text>
<text x="363.7" y="316.5" font-size="12.3" text-anchor="start" fill="#333333" >Physiol.</text>
<line x1="310.7" y1="335.9" x2="329.7" y2="335.9" stroke="#b9b9b9" stroke-width="2.2"/>
<text x="339.2" y="342" font-size="20" fill="#333" style="font-family:Liberation Serif,serif;font-style:italic">v<tspan font-size="15" dy="2.6">m</tspan></text>
<text x="363.7" y="341" font-size="12.3" text-anchor="start" fill="#333333" >Noise</text>
<text x="0" y="0" transform="translate(80.1 405) scale(1.05 1)" font-size="16" text-anchor="middle" fill="#262626">10<tspan font-size="11.5" dy="-6.7">0</tspan></text>
<text x="0" y="0" transform="translate(177.5 405) scale(1.05 1)" font-size="16" text-anchor="middle" fill="#262626">10<tspan font-size="11.5" dy="-6.7">1</tspan></text>
<text x="0" y="0" transform="translate(274.9 405) scale(1.05 1)" font-size="16" text-anchor="middle" fill="#262626">10<tspan font-size="11.5" dy="-6.7">2</tspan></text>
<text x="0" y="0" transform="translate(372.3 405) scale(1.05 1)" font-size="16" text-anchor="middle" fill="#262626">10<tspan font-size="11.5" dy="-6.7">3</tspan></text>
<text x="249.5" y="427.7" font-size="18.2" text-anchor="middle" fill="#333333" >Frequency (Hz)</text>
<text x="156.5" y="458.7" font-size="25" text-anchor="middle" fill="#000" >c</text>
<line x1="71.3" y1="465.4" x2="71.3" y2="586" stroke="#dddddd" stroke-width="1"/>
<line x1="69" y1="582.2" x2="243" y2="582.2" stroke="#dddddd" stroke-width="1"/>
<line x1="67" y1="491.2" x2="71.3" y2="491.2" stroke="#dddddd" stroke-width="1"/>
<line x1="67" y1="530.3" x2="71.3" y2="530.3" stroke="#dddddd" stroke-width="1"/>
<line x1="67" y1="569.2" x2="71.3" y2="569.2" stroke="#dddddd" stroke-width="1"/>
<line x1="71.3" y1="582.2" x2="71.3" y2="586" stroke="#dddddd" stroke-width="1"/>
<line x1="120.3" y1="582.2" x2="120.3" y2="586" stroke="#dddddd" stroke-width="1"/>
<line x1="169.5" y1="582.2" x2="169.5" y2="586" stroke="#dddddd" stroke-width="1"/>
<line x1="218.7" y1="582.2" x2="218.7" y2="586" stroke="#dddddd" stroke-width="1"/>
<text x="0" y="0" transform="translate(55.3 495.7) scale(1.05 1)" font-size="16" text-anchor="end" fill="#262626" >30</text>
<text x="0" y="0" transform="translate(55.3 534.8) scale(1.05 1)" font-size="16" text-anchor="end" fill="#262626" >15</text>
<text x="0" y="0" transform="translate(55.3 574) scale(1.05 1)" font-size="16" text-anchor="end" fill="#262626" >0</text>
<text x="22.3" y="524" font-size="19.2" text-anchor="middle" fill="#333333" transform="rotate(-90 22.3 524)">SNR (dB)</text>
<text x="0" y="0" transform="translate(71.3 611.5) scale(1.05 1)" font-size="16" text-anchor="middle" fill="#262626">10<tspan font-size="11.5" dy="-6.7">0</tspan></text>
<text x="0" y="0" transform="translate(120.3 611.5) scale(1.05 1)" font-size="16" text-anchor="middle" fill="#262626">10<tspan font-size="11.5" dy="-6.7">1</tspan></text>
<text x="0" y="0" transform="translate(169.5 611.5) scale(1.05 1)" font-size="16" text-anchor="middle" fill="#262626">10<tspan font-size="11.5" dy="-6.7">2</tspan></text>
<text x="0" y="0" transform="translate(218.7 611.5) scale(1.05 1)" font-size="16" text-anchor="middle" fill="#262626">10<tspan font-size="11.5" dy="-6.7">3</tspan></text>
<text x="357" y="458.7" font-size="25.5" text-anchor="middle" fill="#000" >d</text>
<line x1="271.8" y1="466.5" x2="271.8" y2="586" stroke="#dddddd" stroke-width="1"/>
<line x1="269.5" y1="582.2" x2="443" y2="582.2" stroke="#dddddd" stroke-width="1"/>
<line x1="267.5" y1="491" x2="271.8" y2="491" stroke="#dddddd" stroke-width="1"/>
<line x1="267.5" y1="530.9" x2="271.8" y2="530.9" stroke="#dddddd" stroke-width="1"/>
<line x1="267.5" y1="570" x2="271.8" y2="570" stroke="#dddddd" stroke-width="1"/>
<line x1="271.8" y1="582.2" x2="271.8" y2="586" stroke="#dddddd" stroke-width="1"/>
<line x1="320.8" y1="582.2" x2="320.8" y2="586" stroke="#dddddd" stroke-width="1"/>
<line x1="369.8" y1="582.2" x2="369.8" y2="586" stroke="#dddddd" stroke-width="1"/>
<line x1="418.8" y1="582.2" x2="418.8" y2="586" stroke="#dddddd" stroke-width="1"/>
<text x="0" y="0" transform="translate(271.8 611.5) scale(1.05 1)" font-size="16" text-anchor="middle" fill="#262626">10<tspan font-size="11.5" dy="-6.7">0</tspan></text>
<text x="0" y="0" transform="translate(320.8 611.5) scale(1.05 1)" font-size="16" text-anchor="middle" fill="#262626">10<tspan font-size="11.5" dy="-6.7">1</tspan></text>
<text x="0" y="0" transform="translate(369.8 611.5) scale(1.05 1)" font-size="16" text-anchor="middle" fill="#262626">10<tspan font-size="11.5" dy="-6.7">2</tspan></text>
<text x="0" y="0" transform="translate(418.8 611.5) scale(1.05 1)" font-size="16" text-anchor="middle" fill="#262626">10<tspan font-size="11.5" dy="-6.7">3</tspan></text>
<text x="255.5" y="637.2" font-size="18.6" text-anchor="middle" fill="#333333" >Frequency (Hz)</text>
<path d="M71.3,509.5 L71.6,508.9 L71.9,508.0 L72.4,507.0 L72.8,505.9 L73.4,504.7 L73.9,503.6 L74.5,502.5 L75.1,501.4 L75.8,500.3 L76.5,499.1 L77.2,497.9 L77.9,496.6 L78.5,495.2 L79.2,493.6 L79.8,491.9 L80.4,490.3 L81.1,488.9 L81.9,487.7 L82.8,486.8 L83.8,486.0 L84.9,485.5 L85.9,485.0 L86.9,484.8 L87.8,484.8 L88.6,485.1 L89.3,485.8 L89.9,486.6 L90.5,487.5 L91.2,488.3 L91.8,488.7 L92.4,488.9 L93.0,488.9 L93.6,488.8 L94.2,488.6 L94.9,488.2 L95.7,487.7 L96.6,487.0 L97.5,486.0 L98.4,484.9 L99.5,483.8 L100.5,482.7 L101.7,481.8 L102.9,481.1 L104.3,480.4 L105.7,479.8 L107.1,479.2 L108.5,478.8 L109.9,478.4 L111.1,478.1 L112.3,478.0 L113.5,477.9 L114.6,477.9 L116.0,477.9 L117.5,477.8 L119.4,477.7 L121.6,477.6 L123.9,477.4 L126.1,477.3 L128.1,477.2 L129.7,477.2 L130.7,477.2 L131.3,477.1 L131.7,477.1 L131.9,477.1 L132.2,477.3 L132.7,477.7 L133.4,478.3 L134.3,479.2 L135.2,480.1 L136.1,481.2 L136.9,482.1 L137.6,482.9 L138.0,483.5 L138.2,483.9 L138.4,484.3 L138.6,484.7 L139.1,485.2 L140.0,485.9 L141.5,486.9 L143.4,488.0 L145.5,489.3 L147.8,490.6 L149.9,491.9" fill="none" stroke="#c9cfe6" stroke-width="4.5" stroke-linejoin="round" opacity="1"/>
<path d="M145.5,489.3 L147.8,490.6 L149.9,491.9 L151.9,493.1 L153.7,494.1 L155.3,495.0 L156.9,495.8 L158.5,496.7 L160.0,497.8 L161.4,499.0 L162.7,500.6 L164.0,502.4 L165.2,504.4 L166.3,506.3 L167.4,508.1 L168.5,509.7 L169.6,510.9 L170.6,511.8 L171.7,512.6 L172.6,513.4 L173.6,514.3 L174.5,515.6" fill="none" stroke="#d3d8ec" stroke-width="3" stroke-linejoin="round" opacity="1"/>
<path d="M71.3,509.5 L71.6,508.9 L71.9,508.4 L72.4,507.0 L72.8,505.9 L73.4,504.8 L73.9,503.3 L74.5,502.5 L75.1,501.5 L75.8,500.6 L76.5,498.7 L77.2,497.7 L77.9,496.2 L78.5,495.5 L79.2,493.7 L79.8,491.4 L80.4,490.8 L81.1,489.3 L81.9,487.9 L82.8,486.9 L83.8,485.7 L84.9,485.0 L85.9,485.1 L86.9,484.4 L87.8,484.5 L88.6,484.9 L89.3,485.3 L89.9,486.6 L90.5,487.5 L91.2,488.6 L91.8,488.7 L92.4,489.0 L93.0,488.9 L93.6,489.0 L94.2,488.5 L94.9,488.0 L95.7,488.2 L96.6,487.5 L97.5,486.3 L98.4,485.1 L99.5,483.6 L100.5,482.4 L101.7,481.6 L102.9,480.6 L104.3,480.6 L105.7,479.7 L107.1,479.6 L108.5,478.7 L109.9,478.9 L111.1,478.5 L112.3,477.5 L113.5,477.6 L114.6,478.3 L116.0,477.8 L117.5,478.3 L119.4,477.6 L121.6,477.1 L123.9,477.6 L126.1,477.6 L128.1,477.0 L129.7,476.8 L130.7,477.0 L131.3,477.6 L131.7,477.3 L131.9,476.8 L132.2,477.1 L132.7,477.3 L133.4,477.9 L134.3,479.5 L135.2,479.8 L136.1,481.2 L136.9,482.1 L137.6,482.6 L138.0,483.7 L138.2,483.5 L138.4,484.4 L138.6,484.3 L139.1,485.1 L140.0,485.6 L141.5,486.6 L143.4,488.5 L145.5,489.6 L147.8,490.4 L149.9,492.3 L151.9,492.8 L153.7,494.0 L155.3,495.3 L156.9,496.0 L158.5,496.3 L160.0,498.2 L161.4,498.7 L162.7,500.3 L164.0,502.7 L165.2,504.2 L166.3,506.1 L167.4,507.7 L168.5,509.3 L169.6,511.0 L170.6,511.5 L171.7,512.7 L172.6,513.2 L173.6,514.3 L174.5,516.1 L175.3,517.2 L176.1,519.1 L176.9,521.4 L177.6,522.8 L178.4,525.0 L179.2,527.9 L180.1,530.1 L181.1,532.0 L182.1,534.5 L183.1,537.5 L184.1,540.1 L185.1,541.5 L186.1,544.1 L187.1,545.8 L188.0,547.1 L189.0,548.4 L190.0,549.5 L191.1,550.8 L192.2,553.1 L193.3,553.7 L194.5,555.4 L195.7,556.1 L196.9,557.7 L198.2,558.5 L199.5,559.1 L200.9,559.9 L202.2,561.3 L203.6,561.3 L205.0,562.2 L206.3,563.2 L207.5,564.0 L208.7,564.3 L209.8,564.5 L211.0,565.5 L212.2,565.1 L213.5,565.2 L214.9,565.6 L216.3,565.9 L217.8,565.5 L219.4,565.6 L220.9,565.8 L222.4,566.1 L223.9,565.8 L225.4,566.3 L227.0,567.0 L228.5,567.4 L229.9,567.3 L231.3,567.5 L232.7,567.5 L234.1,567.1 L235.4,567.0 L236.6,567.0 L237.6,567.9 L238.4,567.5" fill="none" stroke="#8795c6" stroke-width="1.5" stroke-linejoin="round" opacity="1"/>
<path d="M71.3,501.5 L71.8,501.2 L72.5,500.6 L73.4,499.4 L74.2,498.5 L75.1,497.7 L75.9,496.4 L76.6,495.3 L77.3,493.3 L77.9,491.2 L78.6,489.1 L79.2,487.3 L79.9,485.4 L80.6,484.6 L81.2,483.6 L81.9,483.6 L82.5,482.4 L83.1,482.6 L83.8,481.5 L84.5,481.4 L85.2,480.5 L86.0,479.9 L86.7,479.8 L87.3,478.7 L87.8,478.4 L88.1,478.9 L88.3,478.5 L88.4,478.1 L88.5,479.0 L88.6,479.3 L88.8,479.2 L89.1,480.4 L89.4,481.6 L89.7,483.4 L90.0,485.3 L90.4,486.4 L90.8,487.9 L91.2,488.1 L91.6,488.8 L92.0,489.7 L92.4,489.6 L93.0,489.6 L93.7,489.4 L94.6,488.4 L95.6,487.0 L96.8,485.0 L97.9,484.0 L99.0,482.9 L100.0,482.3 L100.8,482.2 L101.5,482.7 L102.1,483.7 L102.7,485.1 L103.3,486.0 L104.0,486.0 L104.8,486.0 L105.6,485.5 L106.5,484.9 L107.3,484.4 L108.1,483.6 L108.9,482.9 L109.6,483.7 L110.4,483.8 L111.1,484.4 L111.8,484.8 L112.4,485.4 L112.9,485.7 L113.3,486.1 L113.6,485.4 L113.8,485.6 L113.9,485.1 L114.1,485.4 L114.4,484.9 L114.6,485.4 L114.7,486.0 L114.9,486.8 L115.2,486.9 L115.8,487.8 L116.8,488.1 L118.5,488.5 L120.7,489.1 L122.0,489.6 L123.3,489.4 L124.5,489.9 L125.8,489.5 L128.1,490.4 L129.7,490.2 L130.6,490.2 L131.0,490.7 L131.1,490.9 L131.1,490.2 L131.3,490.6 L131.7,491.5 L132.5,491.9 L133.5,492.9 L134.6,493.8 L135.7,495.1 L136.8,496.7 L137.6,498.1 L138.1,499.0 L138.3,499.5 L138.4,500.0 L138.6,501.1 L139.1,502.4 L140.0,503.5 L141.5,504.4 L143.4,505.3 L145.5,506.8 L147.8,508.1 L149.9,509.6 L151.9,510.7 L153.7,512.7 L155.3,514.2 L156.9,515.2 L158.5,516.9 L160.0,519.0 L161.4,520.2 L162.7,522.5 L164.0,524.0 L165.2,526.1 L166.3,527.9 L167.4,529.3 L168.5,530.9 L169.6,532.3 L170.6,533.8 L171.7,534.9 L172.6,535.5 L173.6,537.2 L174.5,538.1 L175.3,539.4 L176.0,541.1 L176.7,543.1 L177.4,544.4 L178.2,546.1 L179.2,548.0 L180.4,549.9 L181.7,551.6 L183.1,553.3 L184.6,555.4 L186.1,557.3 L187.5,558.6 L188.9,559.5 L190.2,560.2 L191.5,560.8 L192.8,561.6 L194.2,561.8 L195.6,561.8 L197.0,562.7 L198.5,563.1 L200.1,563.2 L201.6,563.5 L203.1,563.6 L204.6,563.4 L206.1,563.8 L207.7,563.6 L209.3,563.6 L210.9,563.9 L212.3,563.9 L213.5,564.3 L214.5,564.0 L215.5,563.5 L216.3,563.2 L216.9,562.5 L217.5,562.5 L217.9,562.2" fill="none" stroke="#5fb193" stroke-width="1.5" stroke-linejoin="round" opacity="1"/>
<path d="M204.0,561.6 L204.6,561.8 L205.1,570.3 L205.7,560.9 L206.2,564.4 L206.8,564.2 L207.3,563.7 L207.9,564.7 L208.4,563.9 L209.0,565.1 L209.5,565.0 L210.1,564.7 L210.6,557.5 L211.2,567.9 L211.7,566.2 L212.3,566.8 L212.8,565.5 L213.4,565.7 L213.9,570.3 L214.5,566.3 L215.0,567.5 L215.6,569.9 L216.1,566.0 L216.7,567.4 L217.2,565.9 L217.8,566.8 L218.3,567.7 L218.9,566.3 L219.4,565.7 L220.0,567.3 L220.5,566.3 L221.1,559.1 L221.6,567.8 L222.2,566.4 L222.7,566.9 L223.3,566.3 L223.8,567.1 L224.4,572.5 L224.9,566.5 L225.5,567.5 L226.0,568.5 L226.6,568.0 L227.1,565.7 L227.7,565.7 L228.2,567.0 L228.8,566.6 L229.3,569.0 L229.9,567.5 L230.4,566.8 L231.0,566.6 L231.5,567.5 L232.1,566.2 L232.6,566.7 L233.2,567.0 L233.7,571.8 L234.3,568.3 L234.8,569.7 L235.4,567.3 L235.9,565.4 L236.5,567.5 L237.0,566.9 L237.6,567.8 L238.1,569.1" fill="none" stroke="#8795c6" stroke-width="1.1" stroke-linejoin="round" opacity="1"/>
<line x1="81.9" y1="540.6" x2="99.9" y2="540.6" stroke="#8d9aca" stroke-width="1.9"/>
<text x="111.3" y="547" font-size="20" fill="#333" style="font-family:Liberation Serif,serif;font-style:italic">i<tspan font-size="15" dy="2.6">m</tspan></text>
<line x1="81.9" y1="565.1" x2="99.9" y2="565.1" stroke="#5fb193" stroke-width="1.9"/>
<text x="111.3" y="571.5" font-size="20" fill="#333" style="font-family:Liberation Serif,serif;font-style:italic">v<tspan font-size="15" dy="2.6">m</tspan></text>
<path d="M272.0,510.8 L272.7,510.6 L273.6,510.3 L274.7,509.9 L275.9,509.4 L277.0,508.8 L278.0,508.1 L278.9,507.1 L279.7,506.0 L280.5,504.7 L281.3,503.4 L282.1,502.1 L283.0,501.0 L283.9,500.0 L284.7,499.1 L285.6,498.3 L286.6,497.5 L287.7,496.8 L289.0,496.2 L290.6,495.7 L292.4,495.2 L294.4,494.8 L296.4,494.5 L298.3,494.2 L300.0,493.8 L301.4,493.4 L302.7,493.0 L303.8,492.6 L305.0,492.2 L306.4,491.8 L308.0,491.5 L309.9,491.2 L311.9,490.9 L314.1,490.6 L316.5,490.4 L318.9,490.2 L321.5,490.0 L324.2,489.8 L327.2,489.7 L330.2,489.6 L333.3,489.5 L336.4,489.4 L339.3,489.4 L342.1,489.4 L344.8,489.4 L347.5,489.4 L350.2,489.5 L352.8,489.5 L355.4,489.6 L358.0,489.7 L360.5,489.7 L363.1,489.8 L365.5,489.9 L367.9,489.9 L370.0,490.0 L371.9,490.0" fill="none" stroke="#f7cdb8" stroke-width="5" stroke-linejoin="round" opacity="1"/>
<path d="M272.0,507.3 L272.8,506.9 L273.9,506.3 L275.2,505.7 L276.6,504.9 L277.9,504.0 L279.0,503.0 L279.9,501.8 L280.8,500.3 L281.6,498.7 L282.3,497.2 L283.1,495.7 L284.0,494.6 L284.9,493.8 L285.8,493.2 L286.7,492.7 L287.7,492.3 L288.8,491.9 L290.0,491.5 L291.4,491.0 L292.9,490.6 L294.5,490.1 L296.2,489.7 L298.1,489.1 L300.0,488.5 L302.0,487.7 L304.2,486.8 L306.4,485.8 L308.8,484.9 L311.3,484.0 L313.9,483.2 L316.7,482.6 L319.8,482.0 L322.9,481.5 L326.1,481.0 L329.1,480.7 L331.9,480.6 L334.4,480.6 L336.8,480.7 L339.1,481.0 L341.2,481.4 L343.4,481.9 L345.7,482.5 L348.0,483.3 L350.4,484.2 L352.8,485.3 L355.2,486.5 L357.5,487.6 L359.6,488.7 L361.5,489.7 L363.3,490.6 L365.0,491.5 L366.6,492.5 L368.4,493.7 L370.2,495.0" fill="none" stroke="#cfd5ea" stroke-width="4.5" stroke-linejoin="round" opacity="1"/>
<path d="M272.0,501.0 L272.7,500.7 L273.6,500.2 L274.7,499.7 L275.9,499.1 L277.0,498.3 L278.0,497.4 L278.9,496.2 L279.8,494.8 L280.6,493.2 L281.4,491.7 L282.2,490.3 L283.0,489.1 L283.7,488.2 L284.2,487.4 L284.8,486.8 L285.4,486.3 L286.3,485.9 L287.5,485.6 L288.9,485.5 L290.5,485.5 L292.3,485.7 L294.4,485.9 L296.9,486.1 L300.0,486.2 L303.7,486.3 L308.1,486.3 L312.9,486.3 L317.9,486.4 L322.9,486.4 L327.7,486.6 L332.5,486.8 L337.4,487.1 L342.4,487.5 L347.1,487.8 L351.5,488.2 L355.4,488.5 L358.5,488.8 L361.1,489.0 L363.2,489.2 L365.2,489.5 L367.4,489.9 L370.0,490.3" fill="none" stroke="#c0e2d4" stroke-width="3" stroke-linejoin="round" opacity="1"/>
<path d="M370.0,490.0 L371.9,490.0 L373.6,490.1 L375.2,490.1 L376.7,490.1 L378.3,490.3 L380.0,490.5 L381.9,490.8 L383.8,491.3 L385.8,491.8 L387.8,492.3 L389.9,492.9 L392.0,493.5 L394.2,494.1 L396.5,494.7 L398.8,495.3 L401.1,496.0 L403.4,496.7 L405.7,497.6 L407.9,498.6 L410.1,499.7 L412.3,501.0 L414.5,502.2 L416.6,503.4 L418.6,504.6 L420.5,505.7 L422.3,506.8 L424.1,507.8 L425.8,508.8 L427.5,509.9 L429.2,511.0 L430.9,512.2 L432.8,513.5 L434.6,514.9 L436.2,516.2 L437.6,517.2 L438.6,518.0" fill="none" stroke="#f7cdb8" stroke-width="6" stroke-linejoin="round" opacity="1"/>
<path d="M272.0,501.0 L272.7,500.7 L273.6,500.2 L274.7,499.7 L275.9,499.1 L277.0,498.3 L278.0,497.4 L278.9,496.2 L279.8,494.8 L280.6,493.2 L281.4,491.7 L282.2,490.3 L283.0,489.1 L283.7,488.2 L284.2,487.4 L284.8,486.8 L285.4,486.3 L286.3,485.9 L287.5,485.6 L288.9,485.5 L290.5,485.5 L292.3,485.7 L294.4,485.9 L296.9,486.1 L300.0,486.2 L303.7,486.3 L308.1,486.3 L312.9,486.3 L317.9,486.4 L322.9,486.4 L327.7,486.6 L332.5,486.8 L337.4,487.1 L342.4,487.5 L347.1,487.8 L351.5,488.2 L355.4,488.5 L358.5,488.8 L361.1,489.0 L363.2,489.2 L365.2,489.5 L367.4,489.9 L370.0,490.3 L373.0,490.9 L376.2,491.5 L379.5,492.2 L382.9,492.9 L386.3,493.7 L389.6,494.6 L393.0,495.6 L396.6,496.6 L400.1,497.8 L403.6,498.9 L406.7,499.9 L409.4,500.8 L411.7,501.5 L413.7,502.2 L415.3,502.8 L416.7,503.3 L417.9,503.7 L418.8,504.0" fill="none" stroke="#5fb193" stroke-width="1.5" stroke-linejoin="round" opacity="1"/>
<path d="M272.0,510.8 L272.7,510.6 L273.6,510.3 L274.7,509.9 L275.9,509.4 L277.0,508.8 L278.0,508.1 L278.9,507.1 L279.7,506.0 L280.5,504.7 L281.3,503.4 L282.1,502.1 L283.0,501.0 L283.9,500.0 L284.7,499.1 L285.6,498.3 L286.6,497.5 L287.7,496.8 L289.0,496.2 L290.6,495.7 L292.4,495.2 L294.4,494.8 L296.4,494.5 L298.3,494.2 L300.0,493.8 L301.4,493.4 L302.7,493.0 L303.8,492.6 L305.0,492.2 L306.4,491.8 L308.0,491.5 L309.9,491.2 L311.9,490.9 L314.1,490.6 L316.5,490.4 L318.9,490.2 L321.5,490.0 L324.2,489.8 L327.2,489.7 L330.2,489.6 L333.3,489.5 L336.4,489.4 L339.3,489.4 L342.1,489.4 L344.8,489.4 L347.5,489.4 L350.2,489.5 L352.8,489.5 L355.4,489.6 L358.0,489.7 L360.5,489.7 L363.1,489.8 L365.5,489.9 L367.9,489.9 L370.0,490.0 L371.9,490.0 L373.6,490.1 L375.2,490.1 L376.7,490.1 L378.3,490.3 L380.0,490.5 L381.9,490.8 L383.8,491.3 L385.8,491.8 L387.8,492.3 L389.9,492.9 L392.0,493.5 L394.2,494.1 L396.5,494.7 L398.8,495.3 L401.1,496.0 L403.4,496.7 L405.7,497.6 L407.9,498.6 L410.1,499.7 L412.3,501.0 L414.5,502.2 L416.6,503.4 L418.6,504.6 L420.5,505.7 L422.3,506.8 L424.1,507.8 L425.8,508.8 L427.5,509.9 L429.2,511.0 L430.9,512.2 L432.8,513.5 L434.6,514.9 L436.2,516.2 L437.6,517.2 L438.6,518.0" fill="none" stroke="#ee9268" stroke-width="1.5" stroke-linejoin="round" opacity="1"/>
<path d="M272.0,507.3 L272.8,506.9 L273.9,506.3 L275.2,505.7 L276.6,504.9 L277.9,504.0 L279.0,503.0 L279.9,501.8 L280.8,500.3 L281.6,498.7 L282.3,497.2 L283.1,495.7 L284.0,494.6 L284.9,493.8 L285.8,493.2 L286.7,492.7 L287.7,492.3 L288.8,491.9 L290.0,491.5 L291.4,491.0 L292.9,490.6 L294.5,490.1 L296.2,489.7 L298.1,489.1 L300.0,488.5 L302.0,487.7 L304.2,486.8 L306.4,485.8 L308.8,484.9 L311.3,484.0 L313.9,483.2 L316.7,482.6 L319.8,482.0 L322.9,481.5 L326.1,481.0 L329.1,480.7 L331.9,480.6 L334.4,480.6 L336.8,480.7 L339.1,481.0 L341.2,481.4 L343.4,481.9 L345.7,482.5 L348.0,483.3 L350.4,484.2 L352.8,485.3 L355.2,486.5 L357.5,487.6 L359.6,488.7 L361.5,489.7 L363.3,490.6 L365.0,491.5 L366.6,492.5 L368.4,493.7 L370.2,495.0 L372.2,496.5 L374.2,498.1 L376.2,499.9 L378.4,501.8 L380.5,503.9 L382.7,506.1 L384.9,508.5 L387.2,511.2 L389.6,514.1 L391.9,517.0 L394.3,519.9 L396.6,522.7 L398.9,525.5 L401.2,528.3 L403.5,531.2 L405.7,534.0 L408.1,536.7 L410.4,539.4 L412.8,542.0 L415.3,544.6 L417.7,547.2 L420.2,549.6 L422.6,551.9 L425.0,553.9 L427.4,555.7 L430.0,557.4 L432.5,558.9 L434.8,560.2 L436.7,561.3 L438.1,562.1" fill="none" stroke="#8795c6" stroke-width="1.5" stroke-linejoin="round" opacity="1"/>
<path d="M272.0,503.0 L272.7,502.6 L273.6,502.2 L274.7,501.7 L275.9,501.0 L277.0,500.1 L278.0,499.0 L278.9,497.6 L279.7,495.7 L280.6,493.8 L281.4,491.8 L282.2,489.9 L283.0,488.5 L283.8,487.4 L284.4,486.5 L285.1,485.8 L285.8,485.3 L286.8,484.8 L288.0,484.5 L289.5,484.3 L291.2,484.2 L293.1,484.3 L295.1,484.5 L297.5,484.6 L300.0,484.8 L302.9,484.9 L306.3,485.1 L309.8,485.2 L313.4,485.4 L316.9,485.7 L320.0,486.0 L322.8,486.4 L325.3,486.8 L327.7,487.3 L330.1,487.8 L332.4,488.5 L334.7,489.4 L337.1,490.5 L339.6,492.0 L342.1,493.5 L344.5,495.1 L346.6,496.5 L348.5,497.7 L349.9,498.6 L350.9,499.2 L351.7,499.8 L352.6,500.3 L353.6,501.0 L355.0,501.9 L356.9,503.1 L359.1,504.5 L361.5,506.0 L364.0,507.6 L366.5,509.2 L368.9,510.9 L371.2,512.6 L373.5,514.4 L375.8,516.3 L378.1,518.2 L380.4,520.1 L382.7,522.0 L385.0,523.9 L387.3,525.8 L389.6,527.6 L392.0,529.5 L394.3,531.3 L396.6,533.1 L399.0,534.9 L401.5,536.6 L403.9,538.3 L406.3,540.0 L408.5,541.5 L410.4,542.8 L412.0,544.0 L413.5,545.0 L414.8,545.9 L415.8,546.6 L416.7,547.2 L417.4,547.7" fill="none" stroke="#d890c6" stroke-width="1.5" stroke-linejoin="round" opacity="1"/>
<line x1="281" y1="544.7" x2="300" y2="544.7" stroke="#8795c6" stroke-width="1.9"/>
<text x="311.2" y="551" font-size="20" fill="#333" style="font-family:Liberation Serif,serif;font-style:italic">i<tspan font-size="15" dy="2.6">m</tspan></text>
<line x1="281" y1="569.2" x2="300" y2="569.2" stroke="#d890c6" stroke-width="1.9"/>
<text x="311.2" y="575.5" font-size="20" fill="#333" style="font-family:Liberation Serif,serif;font-style:italic">i<tspan font-size="15" dy="2.6">r</tspan></text>
<line x1="339" y1="544.7" x2="357.5" y2="544.7" stroke="#5fb193" stroke-width="1.9"/>
<text x="368.2" y="551" font-size="20" fill="#333" style="font-family:Liberation Serif,serif;font-style:italic">v<tspan font-size="15" dy="2.6">m</tspan></text>
<line x1="339" y1="569.2" x2="357.5" y2="569.2" stroke="#ee9268" stroke-width="1.9"/>
<text x="368.2" y="575.5" font-size="20" fill="#333" style="font-family:Liberation Serif,serif;font-style:italic">v<tspan font-size="15" dy="2.6">r</tspan></text>
<text x="24.2" y="669" font-size="25" text-anchor="start" fill="#000" >e</text>
<line x1="67.4" y1="696.6" x2="67.4" y2="774" stroke="#dddddd" stroke-width="1"/>
<line x1="63" y1="773.5" x2="460" y2="773.5" stroke="#dddddd" stroke-width="1"/>
<line x1="63" y1="712" x2="67.4" y2="712" stroke="#dddddd" stroke-width="1"/>
<line x1="63" y1="742.4" x2="67.4" y2="742.4" stroke="#dddddd" stroke-width="1"/>
<line x1="63" y1="773.3" x2="67.4" y2="773.3" stroke="#dddddd" stroke-width="1"/>
<text x="0" y="0" transform="translate(51.2 716) scale(1.05 1)" font-size="16" text-anchor="end" fill="#262626" >30</text>
<text x="0" y="0" transform="translate(51.2 747.2) scale(1.05 1)" font-size="16" text-anchor="end" fill="#262626" >15</text>
<text x="0" y="0" transform="translate(51.2 777.5) scale(1.05 1)" font-size="16" text-anchor="end" fill="#262626" >0</text>
<text x="22.3" y="734.5" font-size="18.9" text-anchor="middle" fill="#333333" transform="rotate(-90 22.3 734.5)">SNR (dB)</text>
<rect x="74.2" y="708.5" width="15.9" height="64.8" fill="#71ac96" stroke="#4a4a4a" stroke-width="0.9"/>
<line x1="82.15" y1="705.3" x2="82.15" y2="711.6" stroke="#4d4d4d" stroke-width="2.1"/>
<rect x="90.1" y="707.7" width="15.9" height="65.6" fill="#d596c0" stroke="#4a4a4a" stroke-width="0.9"/>
<line x1="98.05000000000001" y1="704.2" x2="98.05000000000001" y2="710.8" stroke="#4d4d4d" stroke-width="2.1"/>
<rect x="106.0" y="710.4" width="15.9" height="62.9" fill="#92a2c3" stroke="#4a4a4a" stroke-width="0.9"/>
<line x1="113.95" y1="705.8" x2="113.95" y2="715.6" stroke="#4d4d4d" stroke-width="2.1"/>
<rect x="121.9" y="714.3" width="15.9" height="59.0" fill="#dd977a" stroke="#4a4a4a" stroke-width="0.9"/>
<line x1="129.85" y1="709.3" x2="129.85" y2="718.4" stroke="#4d4d4d" stroke-width="2.1"/>
<rect x="153.3" y="708.3" width="15.9" height="65.0" fill="#71ac96" stroke="#4a4a4a" stroke-width="0.9"/>
<line x1="161.25" y1="704.5" x2="161.25" y2="712" stroke="#4d4d4d" stroke-width="2.1"/>
<rect x="169.2" y="708.6" width="15.9" height="64.7" fill="#d596c0" stroke="#4a4a4a" stroke-width="0.9"/>
<line x1="177.15" y1="705" x2="177.15" y2="712" stroke="#4d4d4d" stroke-width="2.1"/>
<rect x="185.1" y="703.9" width="15.9" height="69.4" fill="#92a2c3" stroke="#4a4a4a" stroke-width="0.9"/>
<line x1="193.05" y1="699.4" x2="193.05" y2="709.3" stroke="#4d4d4d" stroke-width="2.1"/>
<rect x="201.0" y="706.4" width="15.9" height="66.9" fill="#dd977a" stroke="#4a4a4a" stroke-width="0.9"/>
<line x1="208.95" y1="701.3" x2="208.95" y2="710.8" stroke="#4d4d4d" stroke-width="2.1"/>
<rect x="231.9" y="715.6" width="15.9" height="57.7" fill="#71ac96" stroke="#4a4a4a" stroke-width="0.9"/>
<line x1="239.85" y1="713.5" x2="239.85" y2="717.5" stroke="#4d4d4d" stroke-width="2.1"/>
<rect x="247.8" y="717.5" width="15.9" height="55.8" fill="#d596c0" stroke="#4a4a4a" stroke-width="0.9"/>
<line x1="255.75" y1="715.5" x2="255.75" y2="719.5" stroke="#4d4d4d" stroke-width="2.1"/>
<rect x="263.7" y="705.5" width="15.9" height="67.8" fill="#92a2c3" stroke="#4a4a4a" stroke-width="0.9"/>
<line x1="271.65" y1="701.5" x2="271.65" y2="709.5" stroke="#4d4d4d" stroke-width="2.1"/>
<rect x="279.6" y="706.4" width="15.9" height="66.9" fill="#dd977a" stroke="#4a4a4a" stroke-width="0.9"/>
<line x1="287.55" y1="703" x2="287.55" y2="710" stroke="#4d4d4d" stroke-width="2.1"/>
<rect x="310.7" y="732.1" width="15.9" height="41.2" fill="#71ac96" stroke="#4a4a4a" stroke-width="0.9"/>
<line x1="318.65" y1="730" x2="318.65" y2="734" stroke="#4d4d4d" stroke-width="2.1"/>
<rect x="326.6" y="735.2" width="15.9" height="38.1" fill="#d596c0" stroke="#4a4a4a" stroke-width="0.9"/>
<line x1="334.54999999999995" y1="733.5" x2="334.54999999999995" y2="737" stroke="#4d4d4d" stroke-width="2.1"/>
<rect x="342.5" y="719.0" width="15.9" height="54.3" fill="#92a2c3" stroke="#4a4a4a" stroke-width="0.9"/>
<line x1="350.45" y1="716" x2="350.45" y2="722" stroke="#4d4d4d" stroke-width="2.1"/>
<rect x="358.4" y="718.1" width="15.9" height="55.2" fill="#dd977a" stroke="#4a4a4a" stroke-width="0.9"/>
<line x1="366.34999999999997" y1="715" x2="366.34999999999997" y2="721" stroke="#4d4d4d" stroke-width="2.1"/>
<rect x="389.2" y="764.2" width="15.9" height="9.1" fill="#71ac96" stroke="#4a4a4a" stroke-width="0.9"/>
<line x1="397.15" y1="763" x2="397.15" y2="765.5" stroke="#4d4d4d" stroke-width="2.1"/>
<rect x="405.1" y="767.0" width="15.9" height="6.3" fill="#d596c0" stroke="#4a4a4a" stroke-width="0.9"/>
<line x1="413.04999999999995" y1="765.5" x2="413.04999999999995" y2="768.5" stroke="#4d4d4d" stroke-width="2.1"/>
<rect x="421.0" y="765.0" width="15.9" height="8.3" fill="#92a2c3" stroke="#4a4a4a" stroke-width="0.9"/>
<line x1="428.95" y1="762" x2="428.95" y2="768" stroke="#4d4d4d" stroke-width="2.1"/>
<rect x="436.9" y="758.1" width="15.9" height="15.2" fill="#dd977a" stroke="#4a4a4a" stroke-width="0.9"/>
<line x1="444.84999999999997" y1="755.1" x2="444.84999999999997" y2="761" stroke="#4d4d4d" stroke-width="2.1"/>
<text x="106.0" y="801.7" font-size="16.5" text-anchor="middle" fill="#111" stroke="#111" stroke-width="0.2">δ</text>
<text x="185.10000000000002" y="801.7" font-size="16.5" text-anchor="middle" fill="#111" stroke="#111" stroke-width="0.2">θ</text>
<text x="263.7" y="801.7" font-size="16.5" text-anchor="middle" fill="#111" stroke="#111" stroke-width="0.2">β</text>
<text x="342.5" y="801.7" font-size="16.5" text-anchor="middle" fill="#111" stroke="#111" stroke-width="0.2">γ</text>
<text x="420.3" y="802.4" font-size="16.8" text-anchor="middle" fill="#111" >&gt; 100 Hz</text>
<text x="261.2" y="827.7" font-size="18.4" text-anchor="middle" fill="#333333" >LFP band</text>
<path d="M318.5,727 V724.2 H334.5 V727" fill="none" stroke="#222" stroke-width="1.2"/>
<path d="M397.4,759.9 V757 H413.6 V759.9" fill="none" stroke="#222" stroke-width="1.2"/>
<text x="326.6" y="726" font-size="11" text-anchor="middle" fill="#222" >*</text>
<text x="405.4" y="758.3" font-size="11" text-anchor="middle" fill="#222" >*</text>
<text x="279.4" y="700.3" font-size="11" text-anchor="middle" fill="#222" >***</text>
<text x="358.2" y="712.2" font-size="11" text-anchor="middle" fill="#222" >***</text>
<text x="445" y="753" font-size="11" text-anchor="middle" fill="#222" >***</text>
<text x="379.8" y="647" font-size="15.3" text-anchor="start" fill="#333333" >Signal</text>
<rect x="306.9" y="659.2" width="17.7" height="12" fill="#71ac96" stroke="#444" stroke-width="0.8"/>
<text x="331.4" y="668.8000000000001" font-size="12.3" text-anchor="start" fill="#333333" >Voltage</text>
<rect x="306.9" y="680.2" width="17.7" height="12" fill="#92a2c3" stroke="#444" stroke-width="0.8"/>
<text x="331.4" y="689.8000000000001" font-size="12.3" text-anchor="start" fill="#333333" >Current</text>
<rect x="387.4" y="659.7" width="17.7" height="12" fill="#d596c0" stroke="#444" stroke-width="0.8"/>
<text x="411.9" y="669.3000000000001" font-size="12.3" text-anchor="start" fill="#333333" >Recon. Current</text>
<rect x="387.4" y="680.2" width="17.7" height="12" fill="#dd977a" stroke="#444" stroke-width="0.8"/>
<text x="411.9" y="689.8000000000001" font-size="12.3" text-anchor="start" fill="#333333" >Recon. Voltage</text>
</svg></body></html>
